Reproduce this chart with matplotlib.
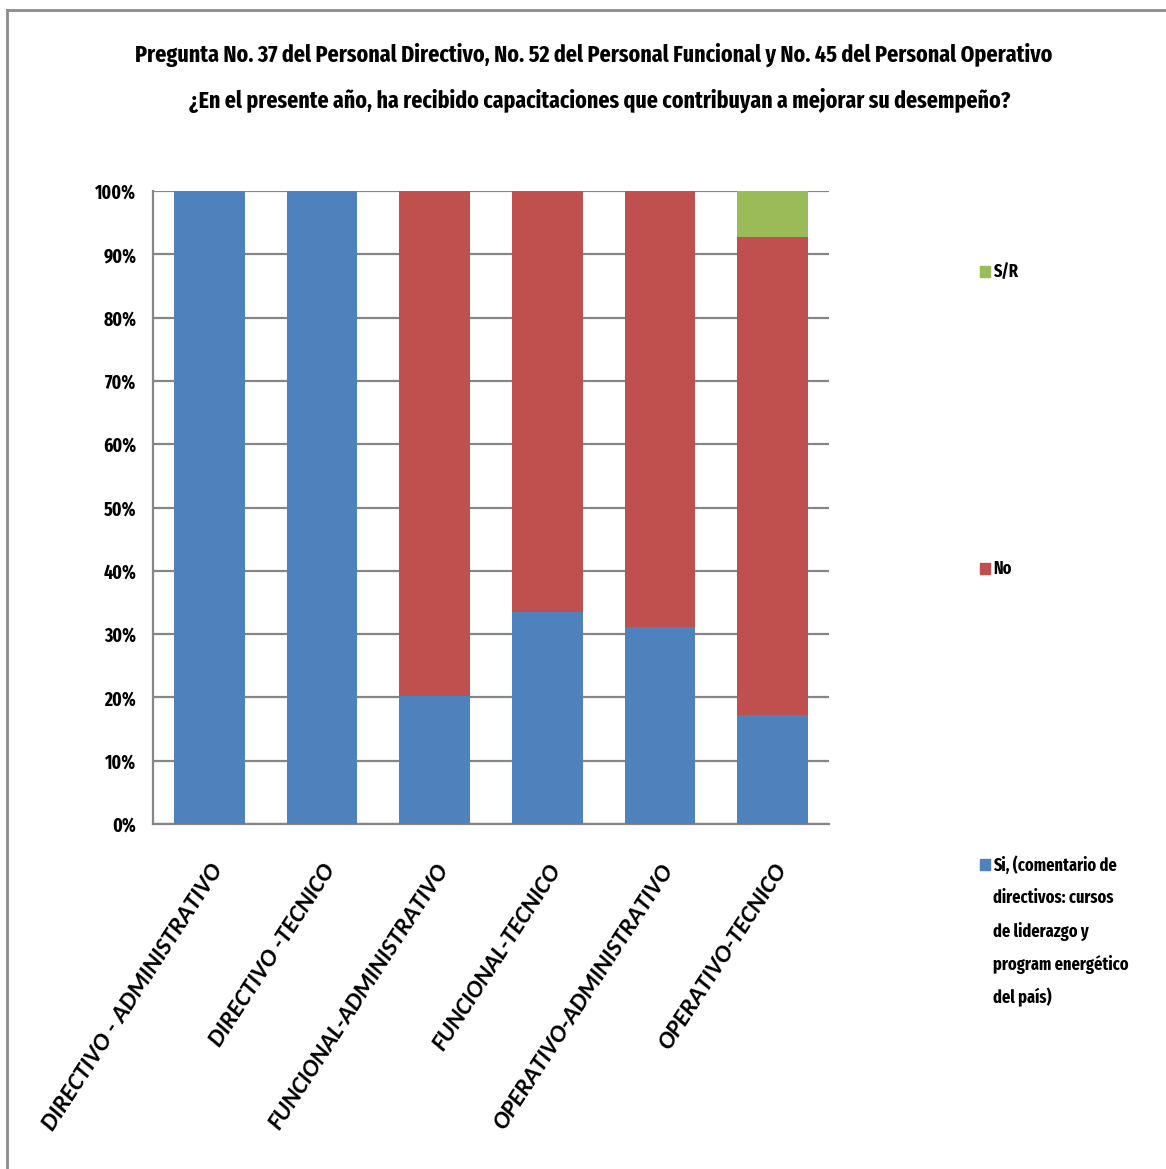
import matplotlib.pyplot as plt
import numpy as np
from matplotlib.font_manager import FontProperties
from matplotlib.lines import Line2D
from matplotlib.patches import Rectangle

FONT = ['Fira Sans Extra Condensed', 'DejaVu Sans']
plt.rcParams['font.family'] = FONT
plt.rcParams['font.weight'] = 'bold'

categories = ['DIRECTIVO - ADMINISTRATIVO', 'DIRECTIVO -TECNICO',
              'FUNCIONAL-ADMINISTRATIVO', 'FUNCIONAL-TECNICO',
              'OPERATIVO-ADMINISTRATIVO', 'OPERATIVO-TECNICO']
si_vals = [100.0, 100.0, 20.2, 33.5, 31.1, 17.2]
no_vals = [0.0, 0.0, 79.8, 66.5, 68.9, 75.6]
sr_vals = [0.0, 0.0, 0.0, 0.0, 0.0, 7.2]
series_names = ['Si, (comentario de\ndirectivos: cursos\nde liderazgo y\nprogram energético\ndel país)',
                'No', 'S/R']
colors = ['#4F81BD', '#C0504D', '#9BBB59']
title_lines = ['Pregunta No. 37 del Personal Directivo, No. 52 del Personal Funcional y No. 45 del Personal Operativo',
               '¿En el presente año, ha recibido capacitaciones que contribuyan a mejorar su desempeño?']

W, H = 1166, 1169
fig = plt.figure(figsize=(W / 100, H / 100), dpi=100)


def fit_size(text, target_px, **kw):
    '''Font size (pt) at which a text is target_px wide.'''
    probe = fig.text(0, 0, text, fontsize=20, fontweight='bold', **kw)
    fig.canvas.draw()
    w = probe.get_window_extent().width
    probe.remove()
    return 20 * target_px / w


label_fp = FontProperties(family='Carlito', style='italic', weight='bold', size=20)
label_fp.set_size(fit_size(categories[0], 313, fontproperties=label_fp))
tick_fs = fit_size('100%', 41)
leg_fs = fit_size('Si, (comentario de', 123)

# plot area in pixels: left 153, right 829, top 191, bottom 824
ax = fig.add_axes([153 / W, 1 - 824 / H, (829 - 153) / W, (824 - 191) / H])

x = np.arange(len(categories))
bottom = np.zeros(len(categories))
for vals, col in zip([si_vals, no_vals, sr_vals], colors):
    vals = np.array(vals)
    ax.bar(x, vals, bottom=bottom, width=0.63, color=col, zorder=3,
           edgecolor='none')
    bottom += vals

ax.set_xlim(-0.5, len(categories) - 0.5)
ax.set_ylim(0, 100)
ax.set_yticks(np.arange(0, 101, 10))
ax.set_yticklabels(['%d%%' % v for v in range(0, 101, 10)], fontsize=tick_fs,
                   fontweight='bold')
ax.yaxis.grid(True, color='#868686', linewidth=1.6, zorder=0)
ax.tick_params(axis='y', length=0, pad=12)
ax.tick_params(axis='x', length=0, pad=26)
ax.set_xticks(x)
ax.set_xticklabels(categories, rotation=57, ha='right', rotation_mode='anchor',
                   fontproperties=label_fp)
for side in ['top', 'right']:
    ax.spines[side].set_visible(False)
for side in ['left', 'bottom']:
    ax.spines[side].set_color('#868686')
    ax.spines[side].set_linewidth(1.6)

fs1 = fit_size(title_lines[0], 918)
fs2 = fit_size(title_lines[1], 820)
fig.text(594 / W, 1 - 55 / H, title_lines[0], ha='center', va='center',
         fontsize=fs1, fontweight='bold')
fig.text(600 / W, 1 - 100 / H, title_lines[1], ha='center', va='center',
         fontsize=fs2, fontweight='bold')

# legend entries placed beside the plot
legend_y = [865, 569, 272]
for name, col, ly in zip(series_names, colors, legend_y):
    fig.patches.append(Rectangle((980 / W, 1 - (ly + 5) / H), 10 / W, 11 / H,
                                 transform=fig.transFigure, color=col))
    for i, line in enumerate(name.split('\n')):
        fig.text(993 / W, 1 - (ly + i * 33) / H, line, ha='left', va='center',
                 fontsize=leg_fs, fontweight='bold')

# chart frame
fig.lines.append(Line2D([7 / W, 7 / W], [0, 1 - 10 / H], transform=fig.transFigure,
                        color='#8c8c8c', linewidth=2))
fig.lines.append(Line2D([7 / W, 1], [1 - 10 / H, 1 - 10 / H], transform=fig.transFigure,
                        color='#8c8c8c', linewidth=2))

fig.savefig('out.png', dpi=100)
